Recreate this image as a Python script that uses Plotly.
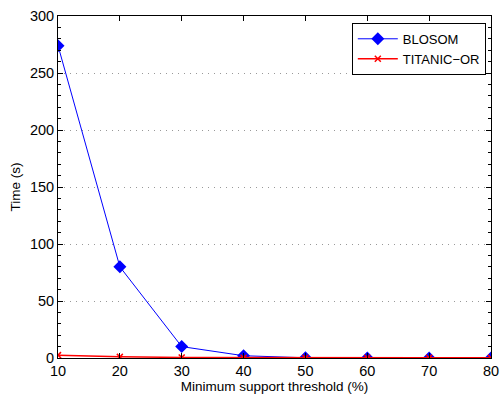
import plotly.graph_objects as go

thresholds = [10, 20, 30, 40, 50, 60, 70, 80]
blosom = [274, 80, 10, 2, 0.2, 0.1, 0.1, 0.1]
titanic = [2.5, 1.0, 0.5, 0.3, 0.2, 0.2, 0.2, 0.2]

fig = go.Figure()
fig.add_trace(go.Scatter(x=thresholds, y=blosom, name="BLOSOM", mode="lines+markers",
                         line=dict(color="#0000ff", width=1),
                         marker=dict(symbol="diamond", size=10, color="#0000ff")))
fig.add_trace(go.Scatter(x=thresholds, y=titanic, name="TITANIC\u2212OR", mode="lines+markers",
                         line=dict(color="#ff0000", width=1.5),
                         marker=dict(symbol="x-thin", size=6, color="#ff0000",
                                     line=dict(color="#ff0000", width=1.5))))

font = dict(family="Liberation Sans, Arial, sans-serif", color="#000000")
fig.update_layout(
    width=500, height=394,
    margin=dict(l=58, r=9, t=16, b=36),
    paper_bgcolor="white", plot_bgcolor="white",
    font=dict(size=14, **font),
    showlegend=True,
    legend=dict(x=0.988, y=0.98, xanchor="right", yanchor="top",
                bordercolor="#000000", borderwidth=1, bgcolor="white",
                font=dict(size=13, **font), tracegroupgap=0,
                itemwidth=40),
)
fig.update_xaxes(
    range=[10, 80], tickvals=thresholds, ticks="inside", ticklen=5, tickcolor="#000",
    showline=True, linecolor="#000", linewidth=1, mirror="ticks",
    showgrid=False, zeroline=False, automargin=False,
    title=dict(text="Minimum support threshold (%)", font=dict(size=13.5, **font), standoff=2),
    tickfont=dict(size=14.5, **font),
)
fig.update_yaxes(
    range=[0, 300], tickvals=[0, 50, 100, 150, 200, 250, 300], ticks="inside", ticklen=5,
    tickcolor="#000",
    showline=True, linecolor="#000", linewidth=1, mirror="ticks",
    showgrid=True, gridcolor="#999999", griddash="1px,5px", gridwidth=1, zeroline=False,
    automargin=False,
    minor=dict(dtick=10, ticks="inside", ticklen=3, tickcolor="#000", showgrid=False),
    title=dict(text="Time (s)", font=dict(size=13.5, **font), standoff=6),
    tickfont=dict(size=14.5, **font),
)
fig.write_html("out.html", config={"displayModeBar": False},
               post_script="document.body.style.margin='0';")
